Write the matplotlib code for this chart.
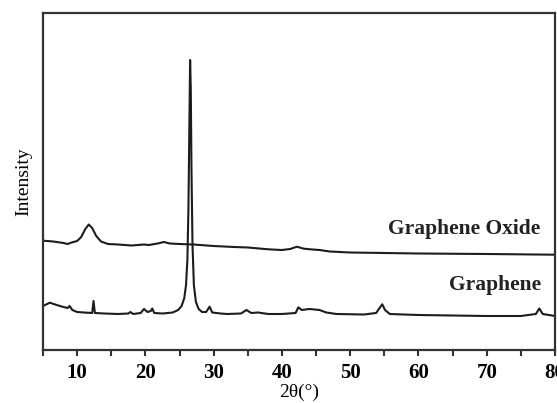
import matplotlib
matplotlib.use("Agg")
import matplotlib.pyplot as plt
from matplotlib.ticker import MultipleLocator

# ---- data (2theta in degrees, intensity in arbitrary units) ----
go_x = [5.0, 6.5, 8.0, 8.6, 9.2, 10.0, 10.6, 11.2, 11.7, 12.2, 12.8, 13.5, 14.5, 16, 18,
        19.8, 20.5, 21.8, 22.7, 23.6, 25, 27, 30, 33, 35, 38, 40, 41.2, 42.2, 43.2, 44.5,
        45.5, 47, 50, 55, 60, 70, 80]
go_y = [109.3, 108.5, 107, 106, 107.5, 109, 113, 121, 125.5, 122, 114, 108.5, 106, 105.5,
        104.5, 105.5, 105, 106.5, 108, 106.5, 106, 105.5, 104, 103, 102.5, 100.7, 100, 101,
        103.3, 101.3, 100.5, 100, 98.5, 97.5, 97, 96.5, 96, 95.3]

gr_x = [5.0, 6.0, 7.0, 8.0, 8.6, 8.9, 9.3, 10, 11, 12.2, 12.4, 12.6, 14, 16, 17.5, 17.8,
        18.2, 19.3, 19.8, 20.3, 20.8, 21.0, 21.3, 22.5, 24, 24.8, 25.3, 25.7, 25.95, 26.15,
        26.3, 26.45, 26.55, 26.65, 26.75, 26.9, 27.1, 27.4, 27.8, 28.3, 28.9, 29.4, 29.8,
        31, 32, 34, 34.8, 35.5, 36.5, 38, 40, 42, 42.4, 42.9, 44, 45.5, 46.5, 48, 52, 53.8,
        54.3, 54.7, 55.1, 55.8, 60, 65, 70, 75, 77.2, 77.7, 78.2, 80]
gr_y = [44, 47.3, 45, 43, 42, 44, 40, 38, 37.5, 37, 49, 37, 36.5, 36, 36.5, 38,
        36, 37, 41, 38, 39, 41.5, 37, 36.5, 37.5, 40, 44, 52, 65, 90,
        140, 230, 290, 260, 180, 105, 65, 48, 41, 38, 38, 43.3, 37.5,
        36.5, 36, 36.5, 40, 37, 37.5, 36, 36, 37, 42.7, 40, 41, 40, 37.5, 36, 35.5, 37,
        42, 45.7, 40, 36, 35, 34.5, 34, 34, 36, 41.5, 36, 34]

labels = ["Graphene Oxide", "Graphene"]
label_pos = [(77.9, 121), (77.9, 65)]
x_ticks = [10, 20, 30, 40, 50, 60, 70, 80]

serif = ["Liberation Serif", "DejaVu Serif"]
plt.rcParams["font.family"] = serif

fig = plt.figure(figsize=(5.57, 4.03), dpi=100)
ax = fig.add_axes([43 / 557, 53 / 403, 512 / 557, 337 / 403])

line_col = "#1c1c1c"
ax.plot(go_x, go_y, color=line_col, lw=1.5)
ax.plot(gr_x, gr_y, color=line_col, lw=1.5)

ax.set_xlim(5, 80)
ax.set_ylim(0, 337)
ax.set_yticks([])
ax.set_xticks(x_ticks)
ax.xaxis.set_minor_locator(MultipleLocator(5))
ax.tick_params(axis="x", which="both", direction="out", length=4, width=1.5,
               color="#333333", pad=5)
for lab in ax.get_xticklabels():
    lab.set_fontweight("bold")
    lab.set_fontsize(15)

for s in ax.spines.values():
    s.set_linewidth(1.6)
    s.set_color("#333333")

ax.set_xlabel("2θ(°)", fontsize=14, labelpad=1)
ax.set_ylabel("Intensity", fontsize=14, labelpad=8)

for t, (x, y) in zip(labels, label_pos):
    ax.text(x, y, t, ha="right", va="center", fontsize=15.5, fontweight="bold",
            color="#222222")

fig.savefig("out.png", dpi=100)
